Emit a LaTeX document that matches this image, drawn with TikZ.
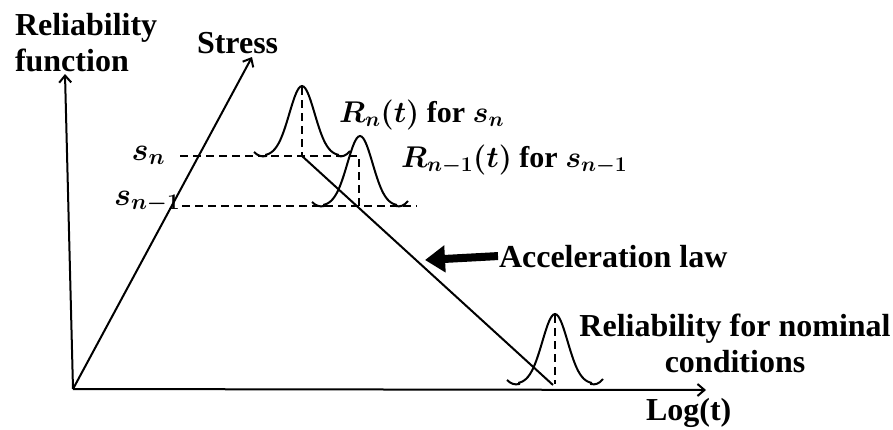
\RequirePackage{fix-cm}
\documentclass[tikz,border=0pt]{standalone}
\usepackage{fontspec}
\setmainfont{Liberation Serif}
\usepackage{tikz}
\usetikzlibrary{arrows.meta}

\begin{document}
\begin{tikzpicture}[
  x=1pt,y=-1pt,
  line width=2pt,
  lbl/.style={font=\bfseries\boldmath\fontsize{32}{36}\selectfont,inner sep=0pt},
  mlbl/.style={lbl,font=\bfseries\boldmath\fontsize{30}{34}\selectfont},
  axis/.style={-{Straight Barb[length=7pt,width=12pt]}},
  lvl/.style={dash pattern=on 8pt off 5pt},
  law/.style={line width=8pt,-{Triangle[length=20pt,width=26pt]}},
  bell/.pic={
    \draw (-48,-4) .. controls (-44,0) and (-40,1) .. (-36,0)
      -- plot[domain=-36:36,samples=41,smooth] (\x,{-70*exp(-\x*\x/320)})
      -- (36,0) .. controls (40,1) and (44,0) .. (48,-5);
  },
]
\useasboundingbox (0,0) rectangle (893,429);

% Labels
\node[lbl,align=left,anchor=north west] (relfn) at (14,12) {Reliability\\function};
\node[lbl,anchor=base west] (stress) at (196,53) {Stress};
\node[mlbl,anchor=base west] (rn)  at (338,122) {$R_n(t)$ for $s_n$};
\node[mlbl,anchor=base west] (rn1) at (400,167) {$R_{n-1}(t)$ for $s_{n-1}$};
\node[lbl,anchor=base east] (sn)  at (166,160) {$s_n$};
\node[lbl,anchor=base west] (sn1) at (113,205) {$s_{n-1}$};
\node[lbl,anchor=base west] (accel) at (498,267) {Acceleration law};
\node[lbl,align=center,anchor=north] (nominal) at (735,313) {Reliability for nominal\\conditions};
\node[lbl,anchor=base west] (logt) at (645,420) {Log(t)};

% Points
\coordinate (O)    at (73,389);
\coordinate (ytip) at (65,74);
\coordinate (stip) at (252,57);
\coordinate (xtip) at (706,390);
\coordinate (snl)  at (180,156);
\coordinate (snr)  at (359,156);
\coordinate (sn1l) at (182,206);
\coordinate (sn1r) at (417,206);
\coordinate (pk1)  at (302,87);
\coordinate (b1)   at (302,156);
\coordinate (b2)   at (360,206);
\coordinate (pk3)  at (555,315);
\coordinate (b3)   at (555,384);
\coordinate (lawend) at (553,385);
\coordinate (acctip) at (425,260);

% Axes
\draw[axis] (O) -- (ytip);
\draw[axis] (O) -- (stip);
\draw[axis] (O) -- (xtip);

% Stress levels
\draw[lvl] (snl) -- (snr) -- (snr |- b2);
\draw[lvl] (sn1l) -- (sn1r);
\draw[lvl] (pk1) -- (b1);
\draw[lvl] (pk3) -- (b3);

% Reliability curves
\pic at (b1) {bell};
\pic at (b2) {bell};
\pic at (b3) {bell};

% Acceleration law
\draw (b1) -- (lawend);
\draw[law] (accel.west) -- (acctip);
\end{tikzpicture}
\end{document}
